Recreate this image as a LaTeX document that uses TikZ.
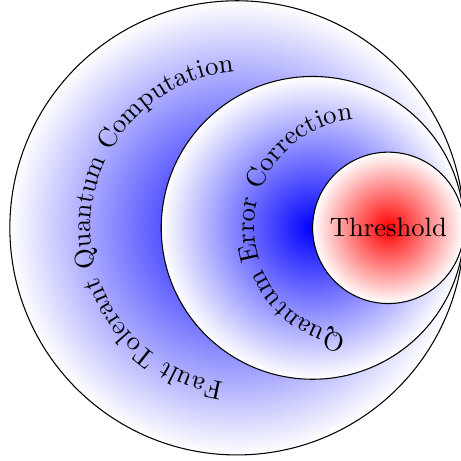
\documentclass[tikz,border=0pt]{standalone}
\usepackage{tikz}
\usetikzlibrary{decorations.text}

\begin{document}
\begin{tikzpicture}[
    layer/.style={circle, draw, shade, outer color=white, inner sep=0pt},
    curved/.style={decorate, decoration={text along path, text align=center, text={#1}}}]
  \useasboundingbox (-3.13,-3.08) rectangle (2.95,3.01);
  % nested circles, all touching at the right
  \node[layer, inner color=blue, minimum size=6cm] (ftqc) at (0,0) {};
  \node[layer, inner color=blue, minimum size=4cm] (qec) at (1,0) {};
  \node[layer, inner color=red, minimum size=2cm] (thr) at (2,0) {Threshold};
  % labels bent round the rings
  \path[curved={Fault Tolerant Quantum Computation}]
    ([shift={(0.14,0)}]268:2.07) arc[start angle=268, end angle=88, radius=2.07];
  \path[curved={Quantum Error Correction}]
    ([shift={(1.66,0)}]268:1.43) arc[start angle=268, end angle=88, radius=1.43];
\end{tikzpicture}
\end{document}
